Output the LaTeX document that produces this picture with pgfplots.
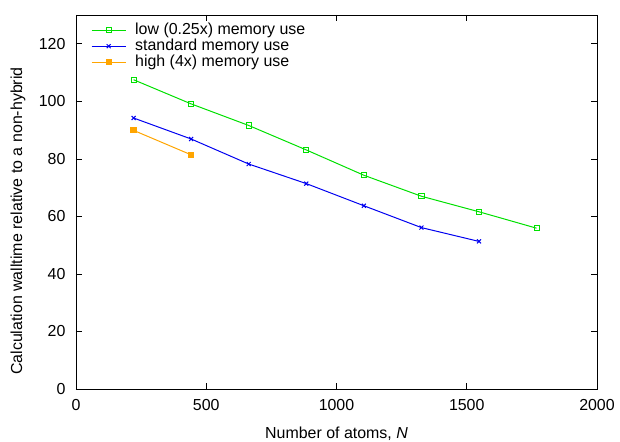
\documentclass[border=0pt]{standalone}
\usepackage{fontspec}
\setmainfont{Liberation Sans}
\usepackage{pgfplots}
\pgfplotsset{compat=1.18}
\definecolor{cgreen}{RGB}{0,224,0}
\definecolor{cblue}{RGB}{0,0,240}
\definecolor{corange}{RGB}{255,165,0}
\newcommand{\ff}{\fontsize{16}{18}\selectfont}
\begin{document}
\begin{tikzpicture}[x=1bp,y=1bp,font=\ff]
\useasboundingbox (-76bp,-53bp) rectangle (544bp,389bp);
\begin{axis}[
  scale only axis,
  width=521bp, height=374bp,
  at={(0,0)}, anchor=south west,
  xmin=0, xmax=2000, ymin=0, ymax=130,
  xtick={0,500,...,2000},
  ytick={0,20,...,120},
  tick align=inside,
  major tick length=6bp,
  minor tick num=0,
  axis line style={line width=0.8pt},
  tick style={line width=0.6pt, black},
  /pgf/number format/assume math mode=true,
  /pgf/number format/1000 sep={},
  ticklabel style={font=\ff},
  xticklabel style={yshift=-6.5bp},
  yticklabel style={xshift=-7bp},
  xlabel={Number of atoms, \textit{N}},
  ylabel={Calculation walltime relative to a non-hybrid},
  label style={font=\ff},
  xlabel style={at={(axis description cs:0.5,0)}, anchor=base, yshift=-49.5bp},
  ylabel style={at={(axis description cs:0,0.449)}, anchor=center, yshift=58bp},
  legend style={draw=none, fill=none, at={(axis description cs:0,1)}, anchor=north west,
    xshift=15bp, yshift=-7bp, row sep=0bp, inner sep=0bp, font=\ff,
    nodes={inner ysep=0.5bp, inner xsep=2bp, text height=11.5bp, text depth=3.5bp},
    /tikz/every odd column/.append style={column sep=7bp}},
  legend cell align=left,
  legend image code/.code={
    \draw[#1] (0bp,0bp) -- (17bp,0bp);
    \draw[#1,only marks] plot coordinates {(17bp,0bp)};
    \draw[#1] (17bp,0bp) -- (34bp,0bp);
  },
]
\addplot[cgreen, line width=1pt, mark=square, mark size=2.6bp, mark options={line width=0.9pt}]
  coordinates {(221,107.5) (442,99.1) (663,91.6) (884,83.1) (1105,74.3) (1326,67.0) (1547,61.6) (1768,55.9)};
\addlegendentry{low (0.25x) memory use}
\addplot[cblue, line width=1pt, mark=x, mark size=2.8bp, mark options={line width=1pt}]
  coordinates {(221,94.2) (442,86.9) (663,78.2) (884,71.4) (1105,63.7) (1326,56.1) (1547,51.3)};
\addlegendentry{standard memory use}
\addplot[corange, line width=1pt, mark=square*, mark size=2.6bp]
  coordinates {(221,89.9) (442,81.4)};
\addlegendentry{high (4x) memory use}
\end{axis}
\end{tikzpicture}
\end{document}
